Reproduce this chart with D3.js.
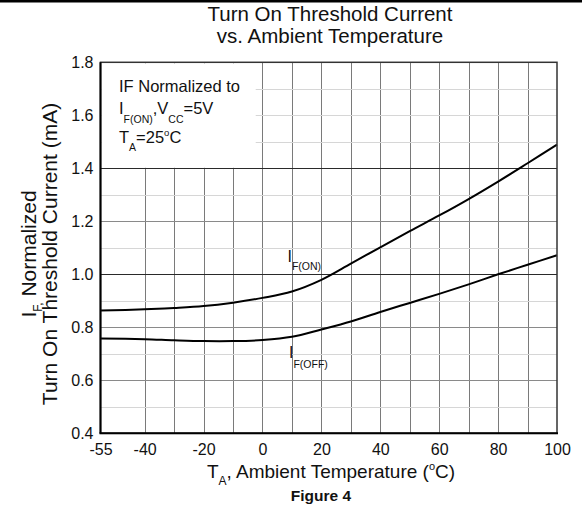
<!DOCTYPE html>
<html>
<head>
<meta charset="utf-8">
<script src="https://cdn.jsdelivr.net/npm/d3@7"></script>
<style>
  html, body { margin: 0; padding: 0; background: #fff; }
  svg { display: block; }
  text { font-family: "Liberation Sans", Arial, sans-serif; fill: #111; }
</style>
</head>
<body>
<svg id="chart" width="582" height="513"></svg>
<script>
// ---- data ----
const temps   = [-55, -40, -30, -20, -10, 0, 10, 20, 30, 40, 50, 60, 70, 80, 90, 100];
const ifOn    = [0.863, 0.868, 0.873, 0.880, 0.893, 0.911, 0.935, 0.979, 1.040, 1.102, 1.163, 1.222, 1.284, 1.350, 1.419, 1.489];
const ifOff   = [0.758, 0.755, 0.751, 0.748, 0.748, 0.752, 0.764, 0.792, 0.822, 0.858, 0.892, 0.926, 0.962, 1.000, 1.036, 1.072];
const xTicks  = [-55, -40, -20, 0, 20, 40, 60, 80, 100];
const yTicks  = [0.4, 0.6, 0.8, 1.0, 1.2, 1.4, 1.6, 1.8];
const xGrid   = [-40, -30, -20, -10, 0, 10, 20, 30, 40, 50, 60, 70, 80, 90];
const yGridDark  = [1.0, 1.4];
const yGridMid   = [0.6, 0.8, 1.2];
const yGridLight = [0.5, 0.7, 0.9, 1.1, 1.3, 1.5, 1.6, 1.7];

// ---- layout ----
const svg = d3.select("#chart");
const x = d3.scaleLinear().domain([-55, 100]).range([100.5, 557]);
const y = d3.scaleLinear().domain([0.4, 1.8]).range([433.3, 62.3]);

svg.append("rect").attr("x", 0).attr("y", 0).attr("width", 582).attr("height", 513).attr("fill", "#fff");
svg.append("rect").attr("x", 0).attr("y", 0).attr("width", 582).attr("height", 2.5).attr("fill", "#000");

// gridlines
const grid = svg.append("g");
grid.selectAll(".vg").data(xGrid).enter().append("line")
  .attr("x1", d => Math.round(x(d)) + 0.5).attr("x2", d => Math.round(x(d)) + 0.5)
  .attr("y1", y(1.8)).attr("y2", y(0.4))
  .attr("stroke", "#7a7a7a").attr("stroke-width", 1);
function hGrid(vals, color) {
  grid.selectAll(null).data(vals).enter().append("line")
    .attr("x1", x(-55)).attr("x2", x(100))
    .attr("y1", d => Math.round(y(d)) + 0.5).attr("y2", d => Math.round(y(d)) + 0.5)
    .attr("stroke", color).attr("stroke-width", 1);
}
hGrid(yGridLight, "#d6d6d6");
hGrid(yGridMid, "#8a8a8a");
hGrid(yGridDark, "#2a2a2a");

// annotation box (white, covers grid)
svg.append("rect")
  .attr("x", x(-55) + 1).attr("y", y(1.8) + 1)
  .attr("width", x(-2.3) - x(-55) - 1).attr("height", y(1.4) - y(1.8) - 1.5)
  .attr("fill", "#fff");

const ann = svg.append("g").attr("font-size", 16.5);
ann.append("text").attr("x", 119).attr("y", 92).text("IF Normalized to");
const l2 = ann.append("text").attr("x", 119).attr("y", 114);
l2.append("tspan").text("I");
l2.append("tspan").attr("dy", 9).attr("font-size", 10.5).text("F(ON)");
l2.append("tspan").attr("dy", -9).text(",V");
l2.append("tspan").attr("dy", 9).attr("font-size", 10.5).text("CC");
l2.append("tspan").attr("dy", -9).text("=5V");
const l3 = ann.append("text").attr("x", 119).attr("y", 143);
l3.append("tspan").text("T");
l3.append("tspan").attr("dy", 8).attr("font-size", 10.5).text("A");
l3.append("tspan").attr("dy", -8).text("=25");
l3.append("tspan").attr("dy", -7).attr("font-size", 9.5).text("o");
l3.append("tspan").attr("dy", 7).text("C");

// curves
const line = d3.line().x((d, i) => x(temps[i])).y(d => y(d)).curve(d3.curveCatmullRom.alpha(0.5));
svg.append("path").datum(ifOn).attr("d", line).attr("fill", "none").attr("stroke", "#000").attr("stroke-width", 2);
svg.append("path").datum(ifOff).attr("d", line).attr("fill", "none").attr("stroke", "#000").attr("stroke-width", 2);

// curve labels
const cl1 = svg.append("text").attr("x", 287.5).attr("y", 261.5).attr("font-size", 16);
cl1.append("tspan").text("I");
cl1.append("tspan").attr("dy", 8).attr("font-size", 10.5).text("F(ON)");
const cl2 = svg.append("text").attr("x", 289).attr("y", 358).attr("font-size", 16);
cl2.append("tspan").text("I");
cl2.append("tspan").attr("dy", 10).attr("font-size", 10.5).text("F(OFF)");

// frame
svg.append("rect").attr("x", x(-55)).attr("y", y(1.8))
  .attr("width", x(100) - x(-55)).attr("height", y(0.4) - y(1.8))
  .attr("fill", "none").attr("stroke", "#333").attr("stroke-width", 1.5);
svg.append("line").attr("x1", x(-55)).attr("x2", x(-55)).attr("y1", y(1.8)).attr("y2", y(0.4))
  .attr("stroke", "#000").attr("stroke-width", 2);
svg.append("line").attr("x1", x(-55) - 1).attr("x2", x(100) + 1).attr("y1", y(0.4)).attr("y2", y(0.4))
  .attr("stroke", "#000").attr("stroke-width", 2);

// axes
const xAxis = svg.append("g").attr("transform", `translate(0,${y(0.4)})`)
  .call(d3.axisBottom(x).tickValues(xTicks).tickSize(0).tickPadding(10.5).tickFormat(d => String(d)));
xAxis.select(".domain").remove();
xAxis.selectAll("text").attr("font-size", 16).attr("font-family", "Liberation Sans, Arial, sans-serif").attr("fill", "#111");

const yAxis = svg.append("g").attr("transform", `translate(${x(-55)},0)`)
  .call(d3.axisLeft(y).tickValues(yTicks).tickSize(0).tickPadding(7).tickFormat(d3.format(".1f")));
yAxis.select(".domain").remove();
yAxis.selectAll("text").attr("font-size", 16).attr("font-family", "Liberation Sans, Arial, sans-serif").attr("fill", "#111");

// titles
svg.append("text").attr("x", 330).attr("y", 21).attr("text-anchor", "middle").attr("font-size", 20.5).text("Turn On Threshold Current");
svg.append("text").attr("x", 330).attr("y", 43).attr("text-anchor", "middle").attr("font-size", 20.5).text("vs. Ambient Temperature");

// x label
const xl = svg.append("text").attr("x", 331).attr("y", 478).attr("text-anchor", "middle").attr("font-size", 19);
xl.append("tspan").text("T");
xl.append("tspan").attr("dy", 7).attr("font-size", 12).text("A");
xl.append("tspan").attr("dy", -7).text(", Ambient Temperature (");
xl.append("tspan").attr("dy", -8).attr("font-size", 11).text("o");
xl.append("tspan").attr("dy", 8).text("C)");

// y label
const yl1 = svg.append("text").attr("transform", "translate(36.2,254) rotate(-90)").attr("text-anchor", "middle").attr("font-size", 21);
yl1.append("tspan").text("I");
yl1.append("tspan").attr("dy", 6).attr("font-size", 12).text("F,");
yl1.append("tspan").attr("dy", -6).text(" Normalized");
svg.append("text").attr("transform", "translate(57.3,254) rotate(-90)").attr("text-anchor", "middle").attr("font-size", 21)
  .text("Turn On Threshold Current (mA)");

// figure caption
svg.append("text").attr("x", 321).attr("y", 501).attr("text-anchor", "middle").attr("font-size", 15.5).attr("font-weight", "bold").text("Figure 4");
</script>
</body>
</html>
